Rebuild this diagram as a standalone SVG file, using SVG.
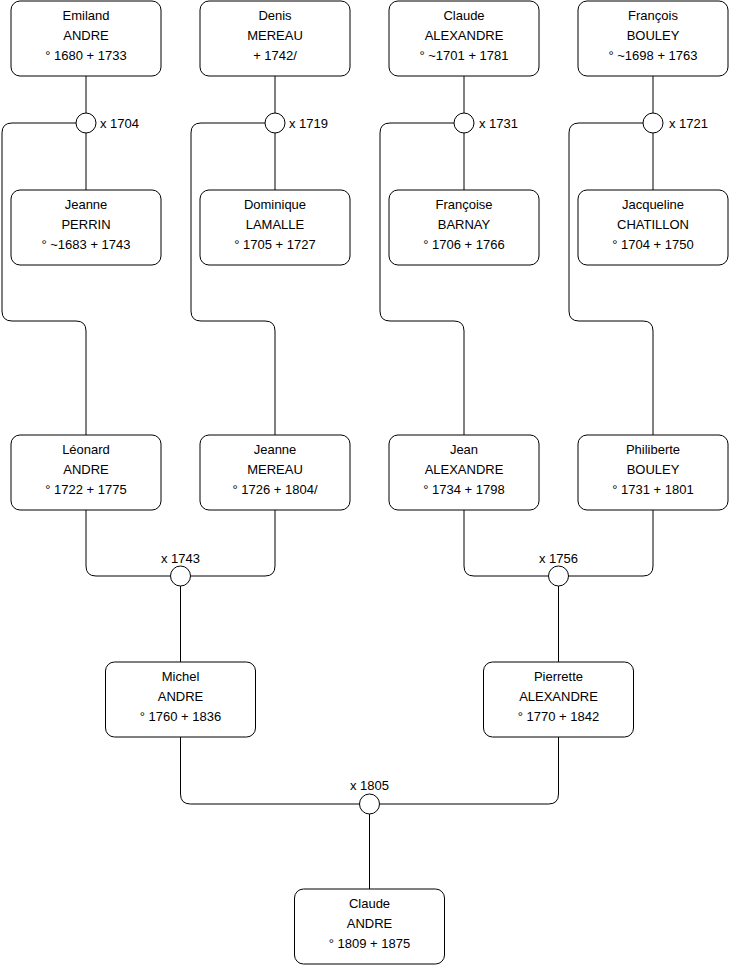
<svg xmlns="http://www.w3.org/2000/svg" width="740" height="975" viewBox="0 0 740 975">
<style>
.box{fill:#fff;stroke:#000;stroke-width:1}
.c{fill:#fff;stroke:#000;stroke-width:1}
.e{fill:none;stroke:#000;stroke-width:1}
text{font-family:"Liberation Sans",Arial,sans-serif;font-size:13px;fill:#000}
.m{text-anchor:middle}
</style>
<rect width="740" height="975" fill="#fff"/>
<g id="connectors">
<path class="e" d="M86,76V113M86,133V190M275,76V113M275,133V190M464,76V113M464,133V190M653,76V113M653,133V190"/>
<path class="e" d="M76,123H12Q2,123 2,133V311Q2,321 12,321H76Q86,321 86,331V435"/>
<path class="e" d="M265,123H201Q191,123 191,133V311Q191,321 201,321H265Q275,321 275,331V435"/>
<path class="e" d="M454,123H390Q380,123 380,133V311Q380,321 390,321H454Q464,321 464,331V435"/>
<path class="e" d="M643,123H579Q569,123 569,133V311Q569,321 579,321H643Q653,321 653,331V435"/>
<path class="e" d="M86,510V566Q86,576 96,576H170.5M275,510V566Q275,576 265,576H190.5M180.5,586V662"/>
<path class="e" d="M464,510V566Q464,576 474,576H548.5M653,510V566Q653,576 643,576H568.5M558.5,586V662"/>
<path class="e" d="M180.5,737V794Q180.5,804 190.5,804H359.5M558.5,737V794Q558.5,804 548.5,804H379.5M369.5,814V889"/>
</g>
<g id="m1704"><circle class="c" cx="86" cy="123" r="10"/><text x="100" y="128">x 1704</text></g>
<g id="m1719"><circle class="c" cx="275" cy="123" r="10"/><text x="289" y="128">x 1719</text></g>
<g id="m1731"><circle class="c" cx="464" cy="123" r="10"/><text x="479" y="128">x 1731</text></g>
<g id="m1721"><circle class="c" cx="653" cy="123" r="10"/><text x="669" y="128">x 1721</text></g>
<g id="m1743"><circle class="c" cx="180.5" cy="576" r="10"/><text class="m" x="180.5" y="563">x 1743</text></g>
<g id="m1756"><circle class="c" cx="558.5" cy="576" r="10"/><text class="m" x="558.5" y="563">x 1756</text></g>
<g id="m1805"><circle class="c" cx="369.5" cy="804" r="10"/><text class="m" x="369.5" y="790">x 1805</text></g>
<g id="emiland"><rect class="box" x="11" y="1" width="150" height="75" rx="9"/><text class="m" x="86" y="20">Emiland</text><text class="m" x="86" y="40">ANDRE</text><text class="m" x="86" y="60">° 1680 + 1733</text></g>
<g id="denis"><rect class="box" x="200" y="1" width="150" height="75" rx="9"/><text class="m" x="275" y="20">Denis</text><text class="m" x="275" y="40">MEREAU</text><text class="m" x="275" y="60">+ 1742/</text></g>
<g id="claudeA"><rect class="box" x="389" y="1" width="150" height="75" rx="9"/><text class="m" x="464" y="20">Claude</text><text class="m" x="464" y="40">ALEXANDRE</text><text class="m" x="464" y="60">° ~1701 + 1781</text></g>
<g id="francois"><rect class="box" x="578" y="1" width="150" height="75" rx="9"/><text class="m" x="653" y="20">François</text><text class="m" x="653" y="40">BOULEY</text><text class="m" x="653" y="60">° ~1698 + 1763</text></g>
<g id="jeanneP"><rect class="box" x="11" y="190" width="150" height="75" rx="9"/><text class="m" x="86" y="209">Jeanne</text><text class="m" x="86" y="229">PERRIN</text><text class="m" x="86" y="249">° ~1683 + 1743</text></g>
<g id="dominique"><rect class="box" x="200" y="190" width="150" height="75" rx="9"/><text class="m" x="275" y="209">Dominique</text><text class="m" x="275" y="229">LAMALLE</text><text class="m" x="275" y="249">° 1705 + 1727</text></g>
<g id="francoise"><rect class="box" x="389" y="190" width="150" height="75" rx="9"/><text class="m" x="464" y="209">Françoise</text><text class="m" x="464" y="229">BARNAY</text><text class="m" x="464" y="249">° 1706 + 1766</text></g>
<g id="jacqueline"><rect class="box" x="578" y="190" width="150" height="75" rx="9"/><text class="m" x="653" y="209">Jacqueline</text><text class="m" x="653" y="229">CHATILLON</text><text class="m" x="653" y="249">° 1704 + 1750</text></g>
<g id="leonard"><rect class="box" x="11" y="435" width="150" height="75" rx="9"/><text class="m" x="86" y="454">Léonard</text><text class="m" x="86" y="474">ANDRE</text><text class="m" x="86" y="494">° 1722 + 1775</text></g>
<g id="jeanneM"><rect class="box" x="200" y="435" width="150" height="75" rx="9"/><text class="m" x="275" y="454">Jeanne</text><text class="m" x="275" y="474">MEREAU</text><text class="m" x="275" y="494">° 1726 + 1804/</text></g>
<g id="jean"><rect class="box" x="389" y="435" width="150" height="75" rx="9"/><text class="m" x="464" y="454">Jean</text><text class="m" x="464" y="474">ALEXANDRE</text><text class="m" x="464" y="494">° 1734 + 1798</text></g>
<g id="philiberte"><rect class="box" x="578" y="435" width="150" height="75" rx="9"/><text class="m" x="653" y="454">Philiberte</text><text class="m" x="653" y="474">BOULEY</text><text class="m" x="653" y="494">° 1731 + 1801</text></g>
<g id="michel"><rect class="box" x="105.5" y="662" width="150" height="75" rx="9"/><text class="m" x="180.5" y="681">Michel</text><text class="m" x="180.5" y="701">ANDRE</text><text class="m" x="180.5" y="721">° 1760 + 1836</text></g>
<g id="pierrette"><rect class="box" x="483.5" y="662" width="150" height="75" rx="9"/><text class="m" x="558.5" y="681">Pierrette</text><text class="m" x="558.5" y="701">ALEXANDRE</text><text class="m" x="558.5" y="721">° 1770 + 1842</text></g>
<g id="claudeAndre"><rect class="box" x="294.5" y="889" width="150" height="75" rx="9"/><text class="m" x="369.5" y="908">Claude</text><text class="m" x="369.5" y="928">ANDRE</text><text class="m" x="369.5" y="948">° 1809 + 1875</text></g>
</svg>
